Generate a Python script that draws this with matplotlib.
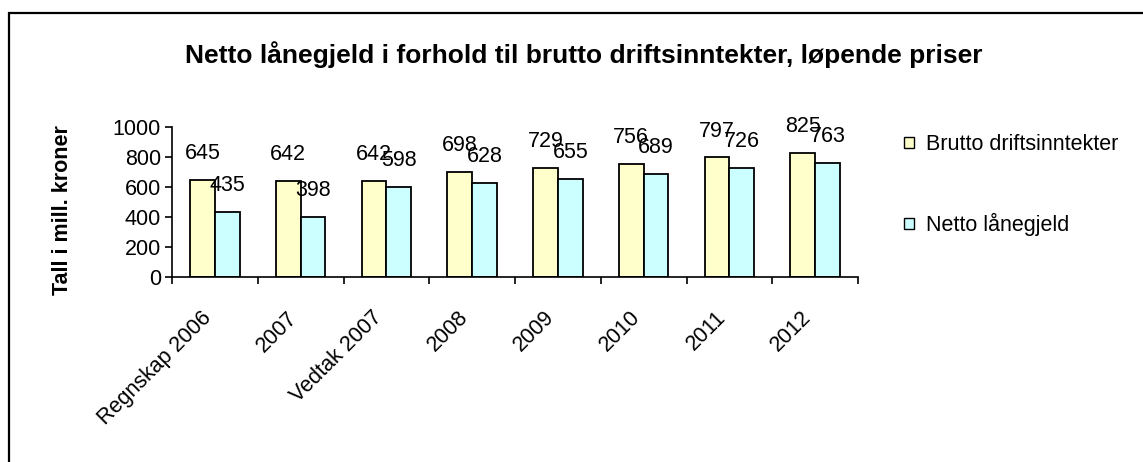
import matplotlib
matplotlib.use("Agg")
import matplotlib.pyplot as plt
from matplotlib.patches import Rectangle, Patch
import matplotlib.transforms as mtransforms
import numpy as np

plt.rcParams['font.family'] = ['Liberation Sans', 'DejaVu Sans']

categories = ["Regnskap 2006", "2007", "Vedtak 2007", "2008", "2009", "2010", "2011", "2012"]
brutto = [645, 642, 642, 698, 729, 756, 797, 825]
netto = [435, 398, 598, 628, 655, 689, 726, 763]
series_names = ["Brutto driftsinntekter", "Netto lånegjeld"]
colors = ["#FFFFCC", "#CCFFFF"]
title = "Netto lånegjeld i forhold til brutto driftsinntekter, løpende priser"
ylabel = "Tall i mill. kroner"
yticks = [0, 200, 400, 600, 800, 1000]

W, H = 1143, 462
FS = 15.5
fig = plt.figure(figsize=(W / 100, H / 100), dpi=100)
ax = fig.add_axes([172 / W, 1 - 277 / H, (858 - 172) / W, 150 / H])

x = np.arange(len(categories))
bw = 0.29
b1 = ax.bar(x - bw / 2, brutto, bw, color=colors[0], edgecolor="black", linewidth=1.3, label=series_names[0])
b2 = ax.bar(x + bw / 2, netto, bw, color=colors[1], edgecolor="black", linewidth=1.3, label=series_names[1])

for bars, vals in ((b1, brutto), (b2, netto)):
    for r, v in zip(bars, vals):
        ax.annotate(str(v), (r.get_x() + r.get_width() / 2, v), xytext=(0, 19),
                    textcoords="offset points", ha="center", va="center", fontsize=FS)

ax.set_xlim(-0.5, len(categories) - 0.5)
ax.set_ylim(0, 1000)
ax.set_yticks(yticks)
ax.set_yticklabels([str(t) for t in yticks], fontsize=FS)
ax.set_xticks(np.arange(len(categories) + 1) - 0.5)
ax.set_xticklabels([])
ax.set_xticks(x, minor=True)
ax.set_xticklabels(categories, minor=True, rotation=45, ha="right", va="center",
                   rotation_mode="anchor", fontsize=FS)
ax.tick_params(axis="x", which="minor", length=0, pad=27)
ax.tick_params(axis="both", which="major", direction="out", length=5, width=1.2, color="black")
ax.tick_params(axis="y", which="major", pad=3)
offset = mtransforms.ScaledTranslation(-7 / 100, 0, fig.dpi_scale_trans)
for lab in ax.get_xticklabels(minor=True):
    lab.set_transform(lab.get_transform() + offset)

for s in ("top", "right"):
    ax.spines[s].set_visible(False)
for s in ("left", "bottom"):
    ax.spines[s].set_linewidth(1.2)

fig.text(584 / W, 1 - 55 / H, title, ha="center", va="center", fontsize=19, fontweight="bold")
fig.text(62 / W, 1 - 210 / H, ylabel, rotation=90, ha="center", va="center", fontsize=FS, fontweight="bold")

handles = [Patch(facecolor=c, edgecolor="black", linewidth=1.0) for c in colors]
fig.legend(handles, series_names, loc="upper left", bbox_to_anchor=(904 / W, 1 - 134 / H),
           frameon=False, fontsize=FS, handlelength=0.45, handleheight=0.45, handletextpad=0.55,
           labelspacing=2.7, borderaxespad=0, borderpad=0)

fig.patches.append(Rectangle((9 / W, -0.1), 1.2, 1 - 13 / H + 0.1, transform=fig.transFigure,
                             fill=False, edgecolor="black", linewidth=1.6))

fig.savefig("out.png", dpi=100)
